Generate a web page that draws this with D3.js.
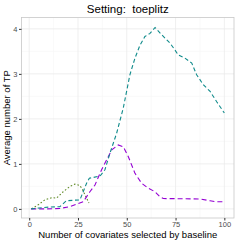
<!DOCTYPE html>
<html>
<head>
<meta charset="utf-8">
<script src="https://cdn.jsdelivr.net/npm/d3@7"></script>
<style>
  body { margin: 0; background: #fff; }
  svg { display: block; font-family: "Liberation Sans", Arial, sans-serif; }
</style>
</head>
<body>
<svg></svg>
<script>
// chart values
const tealX = [1, 5, 10, 15.7, 19, 22, 26, 29.4, 30.8, 36.3, 38.8, 41.4, 44.8, 48.2, 51.6, 54.2, 56.8, 59.3, 61.9, 64.5, 67.9, 72.2, 74.7, 76.4, 79.8, 83.3, 85.8, 89.2, 92.7, 96.1, 100];
const tealY = [0, 0.02, 0.04, 0.05, 0.18, 0.19, 0.2, 0.57, 0.68, 0.73, 0.87, 1.24, 1.68, 2.24, 2.98, 3.35, 3.64, 3.83, 3.9, 4.03, 3.87, 3.68, 3.53, 3.42, 3.35, 3.24, 2.98, 2.76, 2.61, 2.38, 2.13];
const purpleX = [1, 9, 15.7, 20.9, 27.7, 31.1, 33.7, 37.1, 39.7, 42.3, 45.6, 48.2, 50.8, 54.2, 57.6, 61, 64.5, 67, 68.7, 87.5, 92.7, 95.2, 100];
const purpleY = [0, 0, 0.01, 0.05, 0.16, 0.38, 0.53, 0.87, 1.09, 1.31, 1.42, 1.38, 1.16, 0.79, 0.57, 0.46, 0.38, 0.27, 0.23, 0.22, 0.18, 0.16, 0.16];
const oliveX = [1.2, 4.6, 8, 11.5, 14, 17.4, 20.9, 23.4, 26, 27.4, 28.6, 30.6];
const oliveY = [0, 0.09, 0.2, 0.25, 0.24, 0.38, 0.5, 0.55, 0.52, 0.42, 0.31, 0.13];
const xTicks = [0, 25, 50, 75, 100];
const yTicks = [0, 1, 2, 3, 4];

const size = {w: 241, h: 241};
const margin = {t: 17.5, r: 7, b: 23, l: 21.5};
const svg = d3.select('svg').attr('width', size.w).attr('height', size.h);

// ggplot style 5% expansion
const x = d3.scaleLinear().domain([1 - 4.95, 100 + 4.95]).range([margin.l, size.w - margin.r]);
const y = d3.scaleLinear().domain([-0.2025, 4.2525]).range([size.h - margin.b, margin.t]);

const pw = size.w - margin.r - margin.l;
const ph = size.h - margin.b - margin.t;

// minor grid
const g = svg.append('g');
[12.5, 37.5, 62.5, 87.5].forEach(v => {
  g.append('line').attr('x1', x(v)).attr('x2', x(v)).attr('y1', margin.t).attr('y2', margin.t + ph)
    .attr('stroke', '#f5f5f5').attr('stroke-width', 0.6);
});
[0.5, 1.5, 2.5, 3.5].forEach(v => {
  g.append('line').attr('y1', y(v)).attr('y2', y(v)).attr('x1', margin.l).attr('x2', margin.l + pw)
    .attr('stroke', '#f5f5f5').attr('stroke-width', 0.6);
});
// major grid
xTicks.forEach(v => {
  g.append('line').attr('x1', x(v)).attr('x2', x(v)).attr('y1', margin.t).attr('y2', margin.t + ph)
    .attr('stroke', '#ebebeb').attr('stroke-width', 0.8);
});
yTicks.forEach(v => {
  g.append('line').attr('y1', y(v)).attr('y2', y(v)).attr('x1', margin.l).attr('x2', margin.l + pw)
    .attr('stroke', '#ebebeb').attr('stroke-width', 0.8);
});

// lines
const line = d3.line().x(d => x(d[0])).y(d => y(d[1]));
const series = [
  {xs: oliveX, ys: oliveY, color: '#5f8a26', dash: '1.6,2'},
  {xs: purpleX, ys: purpleY, color: '#9400d3', dash: '5,3'},
  {xs: tealX, ys: tealY, color: '#108b8b', dash: '4,2.6'}
];
series.forEach(s => {
  svg.append('path')
    .datum(d3.zip(s.xs, s.ys))
    .attr('d', line)
    .attr('fill', 'none')
    .attr('stroke', s.color)
    .attr('stroke-width', 1.1)
    .attr('stroke-dasharray', s.dash);
});

// panel border
svg.append('rect').attr('x', margin.l).attr('y', margin.t).attr('width', pw).attr('height', ph)
  .attr('fill', 'none').attr('stroke', '#c8c8c8').attr('stroke-width', 0.8);

// axes
const xAxis = svg.append('g').attr('transform', `translate(0,${margin.t + ph})`)
  .call(d3.axisBottom(x).tickValues(xTicks).tickFormat(d3.format('d')).tickSize(2.5).tickPadding(1.5));
const yAxis = svg.append('g').attr('transform', `translate(${margin.l},0)`)
  .call(d3.axisLeft(y).tickValues(yTicks).tickFormat(d3.format('d')).tickSize(2.5).tickPadding(1.5));
[xAxis, yAxis].forEach(a => {
  a.select('.domain').remove();
  a.selectAll('line').attr('stroke', '#333');
  a.selectAll('text').attr('fill', '#4d4d4d').style('font-size', '7.5px').style('font-family', '"Liberation Sans", Arial, sans-serif');
});

// titles
svg.append('text').attr('x', margin.l + pw / 2).attr('y', 13).attr('text-anchor', 'middle')
  .style('font-size', '11.5px').style('white-space', 'pre').attr('fill', '#000').text('Setting:  toeplitz');
svg.append('text').attr('x', margin.l + pw / 2).attr('y', 238).attr('text-anchor', 'middle')
  .style('font-size', '9.5px').attr('fill', '#000').text('Number of covariates selected by baseline');
svg.append('text').attr('transform', `translate(10,${margin.t + ph / 2}) rotate(-90)`).attr('text-anchor', 'middle')
  .style('font-size', '9.5px').attr('fill', '#000').text('Average number of TP');
</script>
</body>
</html>
